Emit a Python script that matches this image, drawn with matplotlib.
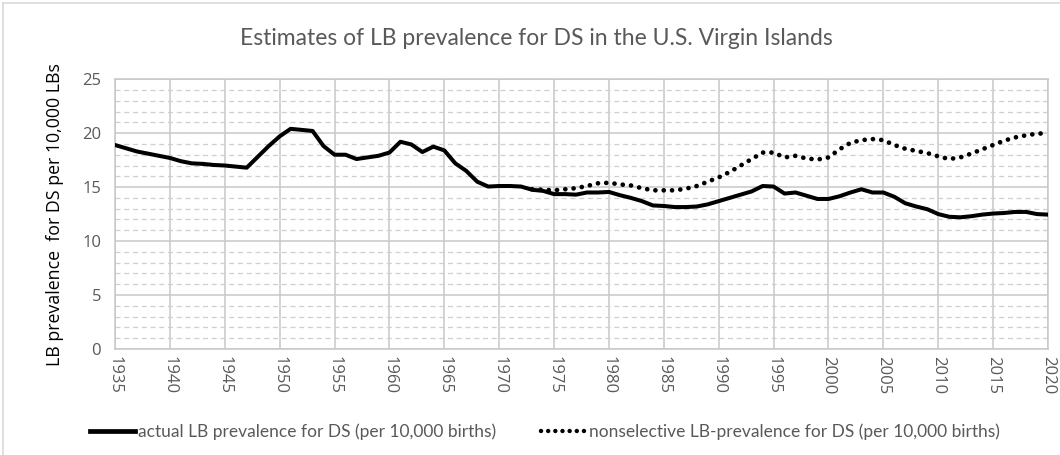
import numpy as np
import matplotlib.pyplot as plt
from matplotlib.lines import Line2D

# anni e prevalenza effettiva (per 10.000 nati)
years = list(range(1935, 2021))
actual = [18.9, 18.6, 18.3, 18.1, 17.9, 17.7, 17.4, 17.2, 17.15, 17.05,
          17.0, 16.9, 16.8, 17.8, 18.8, 19.7, 20.4, 20.3, 20.2, 18.8,
          18.0, 18.0, 17.6, 17.75, 17.9, 18.2, 19.2, 18.95, 18.25, 18.75,
          18.4, 17.2, 16.5, 15.5, 15.05, 15.1, 15.1, 15.05, 14.75, 14.65,
          14.35, 14.35, 14.3, 14.5, 14.5, 14.55, 14.25, 14.0, 13.7, 13.3,
          13.25, 13.15, 13.15, 13.2, 13.4, 13.7, 14.0, 14.3, 14.6, 15.1,
          15.05, 14.4, 14.5, 14.2, 13.9, 13.9, 14.15, 14.5, 14.8, 14.5,
          14.5, 14.1, 13.5, 13.2, 12.95, 12.5, 12.25, 12.2, 12.3, 12.45,
          12.55, 12.6, 12.7, 12.7, 12.5, 12.45]

# prevalenza non selettiva
years_ns = list(range(1973, 2021))
nonsel = [14.8, 14.75, 14.7, 14.8, 14.9, 15.1, 15.35, 15.4, 15.25, 15.15,
          14.9, 14.7, 14.7, 14.7, 14.85, 15.1, 15.5, 15.9, 16.4, 17.0,
          17.6, 18.2, 18.2, 17.75, 17.9, 17.65, 17.55, 17.75, 18.5, 19.1,
          19.35, 19.45, 19.35, 18.9, 18.55, 18.35, 18.15, 17.85, 17.6, 17.75,
          18.1, 18.5, 18.9, 19.3, 19.6, 19.8, 19.95, 20.0]

xticks = list(range(1935, 2021, 5))
yticks = [0, 5, 10, 15, 20, 25]

title = "Estimates of LB prevalence for DS in the U.S. Virgin Islands"
ylabel = "LB prevalence  for DS per 10,000 LBs"
lab_actual = "actual LB prevalence for DS (per 10,000 births)"
lab_nonsel = "nonselective LB-prevalence for DS (per 10,000 births)"

plt.rcParams['font.family'] = ['Open Sans', 'DejaVu Sans']
lato = ['Lato', 'DejaVu Sans']

fig = plt.figure(figsize=(10.6, 4.55), dpi=100)
ax = fig.add_axes([0.1085, 0.233, 0.8802, 0.593])

ax.plot(years, actual, color='black', lw=2.9, solid_joinstyle='round',
        label=lab_actual, zorder=3)
ax.plot(years_ns, nonsel, color='black', lw=3.4, linestyle=(0, (0.01, 1.75)),
        dash_capstyle='round', label=lab_nonsel, zorder=3)

ax.set_xlim(1935, 2020)
ax.set_ylim(0, 25)
ax.set_xticks(xticks)
ax.set_xticklabels([str(x) for x in xticks], rotation=270, fontsize=12, color='#595959')
ax.set_yticks(yticks)
ax.set_yticklabels([str(y) for y in yticks], fontsize=12, color='#595959')
ax.set_yticks(np.arange(0, 25, 1), minor=True)
ax.tick_params(axis='both', which='both', length=0)
ax.tick_params(axis='x', pad=5)
ax.tick_params(axis='y', pad=10)

ax.grid(which='major', color='#c8c8c8', lw=1.1, ls='-')
ax.grid(which='minor', axis='y', color='#cfcfcf', lw=0.9, ls=(0, (4, 3)))
ax.set_axisbelow(True)
for sp in ax.spines.values():
    sp.set_color('#c8c8c8')
    sp.set_linewidth(1.1)

ax.set_ylabel(ylabel, fontsize=12.8, color='black', labelpad=13)
fig.text(0.506, 0.915, title, ha='center', va='center', fontsize=16.5,
         color='#595959', family=lato)

handles = [Line2D([], [], color='black', lw=3.4),
           Line2D([], [], color='black', lw=3.2, linestyle=(0, (0.01, 1.6)),
                  dash_capstyle='round')]
leg = fig.legend(handles, [lab_actual, lab_nonsel], loc='center',
                 bbox_to_anchor=(0.514, 0.052), ncol=2, frameon=False,
                 handlelength=2.6, handletextpad=0.15, columnspacing=2.6,
                 prop={'family': lato, 'size': 12.5})
for t in leg.get_texts():
    t.set_color('#595959')

# bordo del grafico
fig.add_artist(Line2D([0.003, 0.003], [0, 0.993], color='#d9d9d9', lw=1.2,
                      transform=fig.transFigure))
fig.add_artist(Line2D([0.003, 1], [0.993, 0.993], color='#d9d9d9', lw=1.2,
                      transform=fig.transFigure))

fig.savefig('out.png', dpi=100, facecolor='white')
